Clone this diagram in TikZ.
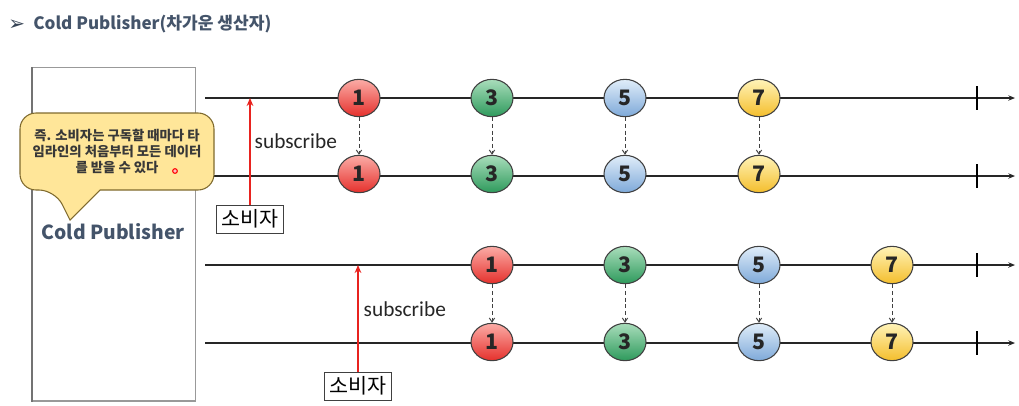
\documentclass[tikz,border=0pt]{standalone}
\usepackage{fontspec}
\setmainfont{Noto Sans CJK KR}
\newfontfamily\kr{Noto Sans CJK KR}
\newfontfamily\symfont{DejaVu Sans}
\newfontfamily\lat{Carlito}
\usetikzlibrary{arrows.meta,shapes.geometric}
\definecolor{slate}{HTML}{44546A}
\definecolor{notefill}{HTML}{FFE699}
\definecolor{noteline}{HTML}{7F6A2E}
\definecolor{subred}{HTML}{E8231F}
\definecolor{redA}{HTML}{FBACA6}\definecolor{redB}{HTML}{E5302C}
\definecolor{grnA}{HTML}{A9DDBB}\definecolor{grnB}{HTML}{2E9A5C}
\definecolor{bluA}{HTML}{E0EDF9}\definecolor{bluB}{HTML}{7EA9D9}
\definecolor{yelA}{HTML}{FFF3B8}\definecolor{yelB}{HTML}{F4BE2C}
\tikzset{
  timeline/.style={draw=black!85, line width=0.9pt, -{Stealth[length=5pt,width=4pt]}},
  endtick/.style={draw=black, line width=0.9pt},
  marble/.style={ellipse, draw=black!75, line width=0.8pt, minimum width=31.5pt, minimum height=28pt,
    inner sep=0pt, font=\kr\bfseries\fontsize{16}{16}\selectfont, text=black!85},
  mred/.style={marble, top color=redA, bottom color=redB},
  mgrn/.style={marble, top color=grnA, bottom color=grnB},
  mblu/.style={marble, top color=bluA, bottom color=bluB},
  myel/.style={marble, top color=yelA, bottom color=yelB},
  emit/.style={draw=black!75, dashed, dash pattern=on 3pt off 2pt, line width=0.7pt,
    -{Straight Barb[length=3pt,width=4pt]}},
  subarrow/.style={draw=subred, line width=1.2pt, -{Stealth[length=6pt,width=5pt]}},
  subbox/.style={draw=black!75, line width=0.6pt, fill=white, inner sep=2pt,
    minimum width=50pt, minimum height=21pt, font=\kr\fontsize{15.5}{15.5}\selectfont},
  sublabel/.style={anchor=west, font=\lat\fontsize{16}{16}\selectfont, text=black!85},
}
\begin{document}
\begin{tikzpicture}[x=0.75pt,y=-0.75pt]
\useasboundingbox (0,0) rectangle (1019,405);

% heading
\node[anchor=west, text=slate!80!black, font=\symfont\fontsize{15}{15}\selectfont, inner sep=0pt] (bullet) at (8,25) {➢};
\node[anchor=west, text=slate, font=\kr\bfseries\fontsize{12.8}{13}\selectfont, inner sep=0pt] (title) at (33,24) {Cold Publisher(차가운 생산자)};

% publisher column
\node[draw=black!40, line width=1pt, minimum width=122pt, minimum height=250pt, anchor=north west, inner sep=0pt] (pub) at (32,67) {};
\draw[black!55, line width=1.2pt] (pub.north west) -- (pub.south west);
\node[text=slate, font=\kr\bfseries\fontsize{14.5}{15}\selectfont] (publabel) at (113,232) {Cold Publisher};

% timelines
\coordinate (s1) at (205,98);  \coordinate (e1) at (1015,98);
\coordinate (s2) at (205,176); \coordinate (e2) at (1015,176);
\coordinate (s3) at (205,265); \coordinate (e3) at (1015,265);
\coordinate (s4) at (205,343); \coordinate (e4) at (1015,343);
\draw[timeline] (s1) -- (e1);
\draw[timeline] (s2) -- (e2);
\draw[timeline] (s3) -- (e3);
\draw[timeline] (s4) -- (e4);
\foreach \y in {98,176,265,343}{
  \draw[endtick] (977,\y-12) -- (977,\y+12);
}

% callout note
\draw[fill=notefill, draw=noteline, line width=0.8pt]
  (55,190) -- (70,220) -- (100,190) [rounded corners=12pt] -- (214,190) -- (214,113) -- (20,113) -- (20,190) -- cycle;
\node[align=center, text=black!78, font=\kr\bfseries\fontsize{10}{12}\selectfont, inner sep=0pt] (note) at (117,151)
  {즉. 소비자는 구독할 때마다 타\\임라인의 처음부터 모든 데이터\\를 받을 수 있다};
\node[circle, draw=red, fill=red!25, line width=0.8pt, inner sep=0pt, minimum size=3.5pt] (dot) at (175,171) {};

% first subscription
\node[mred] (a1) at (359,98) {1};
\node[mgrn] (a3) at (492,98) {3};
\node[mblu] (a5) at (625,98) {5};
\node[myel] (a7) at (759,98) {7};
\node[mred] (b1) at (359,174) {1};
\node[mgrn] (b3) at (492,174) {3};
\node[mblu] (b5) at (625,174) {5};
\node[myel] (b7) at (759,174) {7};
\foreach \n in {1,3,5,7}{ \draw[emit] (a\n) -- (b\n); }

\node[subbox] (c1) at (250,219) {소비자};
\coordinate (t1) at (250,98);
\draw[subarrow] (c1.north) -- (t1);
\node[sublabel] (l1) at (250,141) {subscribe};

% second subscription
\node[mred] (p1) at (492,265) {1};
\node[mgrn] (p3) at (625,265) {3};
\node[mblu] (p5) at (759,265) {5};
\node[myel] (p7) at (892,265) {7};
\node[mred] (q1) at (492,342) {1};
\node[mgrn] (q3) at (625,342) {3};
\node[mblu] (q5) at (759,342) {5};
\node[myel] (q7) at (892,342) {7};
\foreach \n in {1,3,5,7}{ \draw[emit] (p\n) -- (q\n); }

\node[subbox] (c2) at (358,386) {소비자};
\coordinate (t2) at (358,265);
\draw[subarrow] (c2.north) -- (t2);
\node[sublabel] (l2) at (359,309) {subscribe};
\end{tikzpicture}
\end{document}
